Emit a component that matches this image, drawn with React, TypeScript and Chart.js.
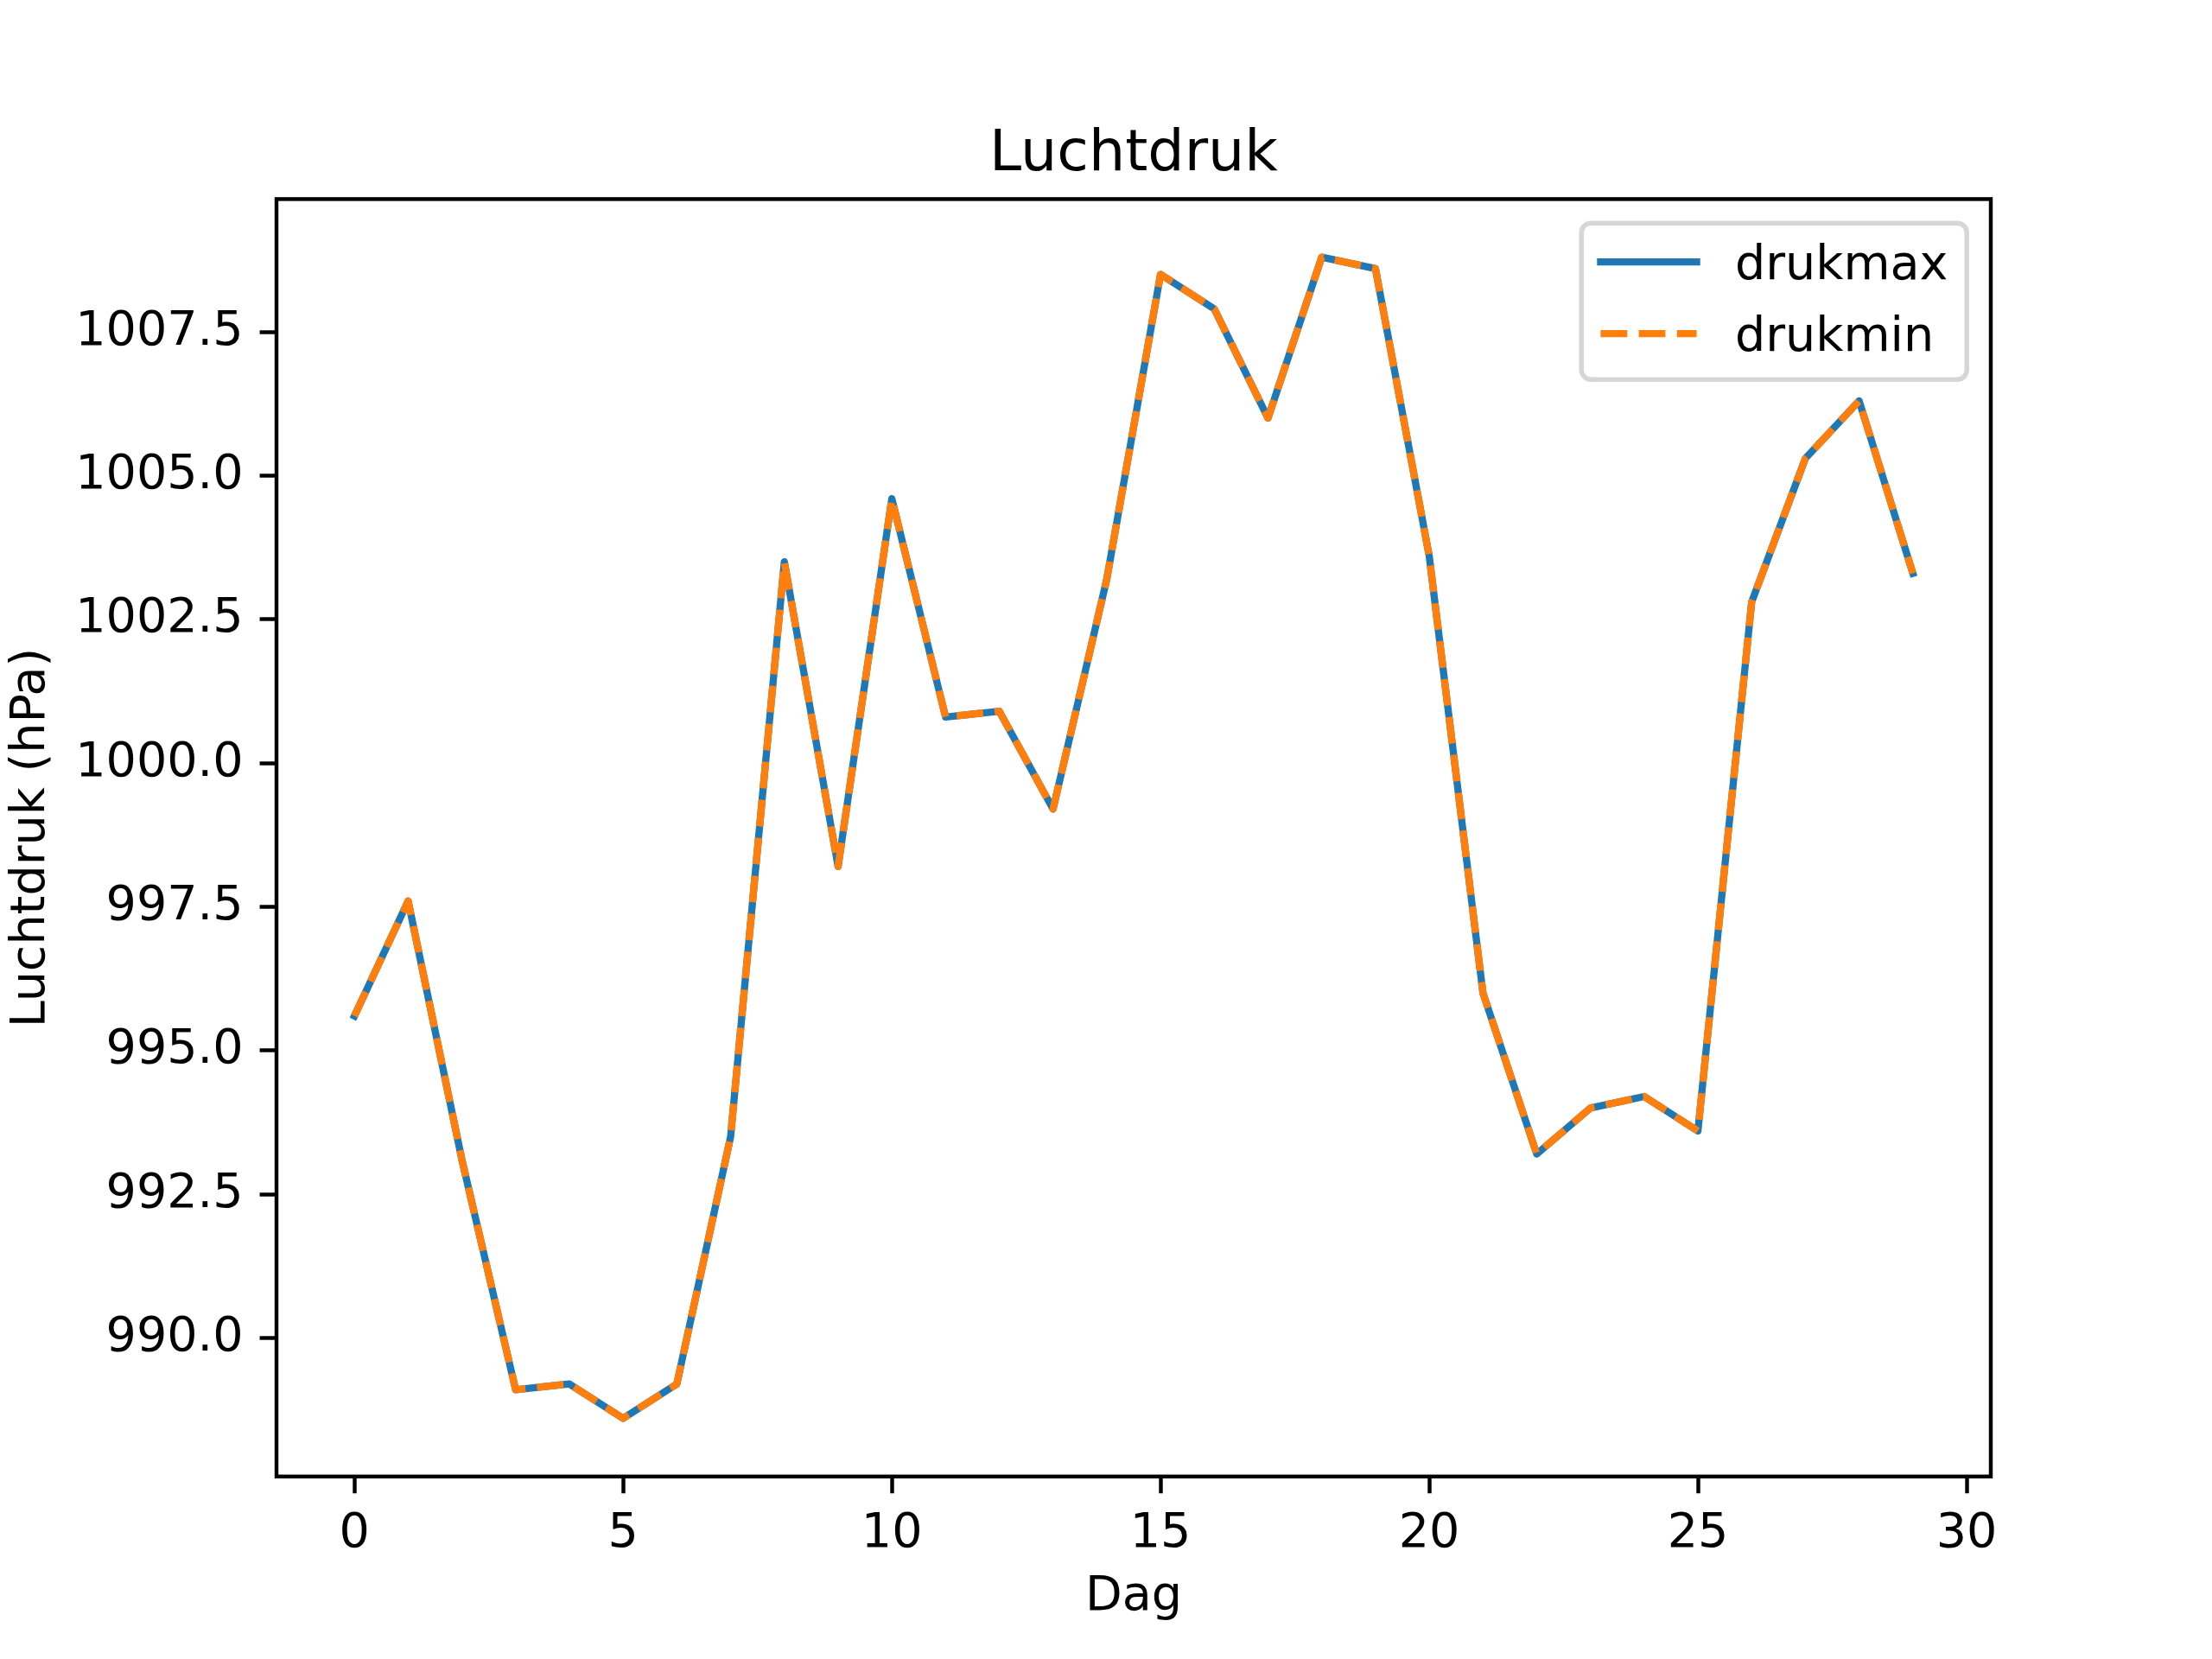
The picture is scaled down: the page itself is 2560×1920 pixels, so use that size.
import React, { useEffect, useRef } from 'react';
import { Chart, registerables } from 'chart.js';

Chart.register(...registerables);

// matplotlib figure at 400 dpi: 1pt = 400/72 px
const PT = 400 / 72;
const FONT = "'DejaVu Sans', sans-serif";

const days = [0, 1, 2, 3, 4, 5, 6, 7, 8, 9, 10, 11, 12, 13, 14, 15, 16, 17, 18, 19, 20, 21, 22, 23, 24, 25, 26, 27, 28, 29];
const drukmax = [
  995.6, 997.6, 993.1, 989.1, 989.2, 988.6, 989.2, 993.5, 1003.5, 998.2,
  1004.6, 1000.8, 1000.9, 999.2, 1003.2, 1008.5, 1007.9, 1006.0, 1008.8, 1008.6,
  1003.6, 996.0, 993.2, 994.0, 994.2, 993.6, 1002.8, 1005.3, 1006.3, 1003.3,
];
const drukmin = [
  995.6, 997.6, 993.1, 989.1, 989.2, 988.6, 989.2, 993.5, 1003.5, 998.2,
  1004.6, 1000.8, 1000.9, 999.2, 1003.2, 1008.5, 1007.9, 1006.0, 1008.8, 1008.6,
  1003.6, 996.0, 993.2, 994.0, 994.2, 993.6, 1002.8, 1005.3, 1006.3, 1003.3,
];
const xTicks = [0, 5, 10, 15, 20, 25, 30];
const yTicks = [990, 992.5, 995, 997.5, 1000, 1002.5, 1005, 1007.5];

const seriesNames = ['drukmax', 'drukmin'];
const seriesColors = ['#1f77b4', '#ff7f0e'];
const DASH = [3.7 * 1.5 * PT, 1.6 * 1.5 * PT];

const overlayPlugin = {
  id: 'mplOverlay',
  afterDatasetsDraw(chart: any) {
    const { ctx, chartArea: a } = chart;
    ctx.save();

    // axes frame
    ctx.strokeStyle = '#000';
    ctx.lineWidth = 0.8 * PT;
    ctx.strokeRect(a.left, a.top, a.right - a.left, a.bottom - a.top);

    // title
    ctx.fillStyle = '#000';
    ctx.font = `${12 * PT}px ${FONT}`;
    ctx.textAlign = 'center';
    ctx.textBaseline = 'alphabetic';
    ctx.fillText('Luchtdruk', (a.left + a.right) / 2, a.top - 6 * PT);

    // legend box
    const fs = 10 * PT;
    const w = 446;
    const h = 181;
    const right = a.right - 0.5 * fs;
    const top = a.top + 0.5 * fs;
    const left = right - w;
    const r = 0.2 * fs;
    ctx.beginPath();
    ctx.roundRect(left, top, w, h, r);
    ctx.fillStyle = 'rgba(255,255,255,0.8)';
    ctx.fill();
    ctx.lineWidth = 1 * PT;
    ctx.strokeStyle = 'rgba(204,204,204,0.8)';
    ctx.stroke();

    const rows = [top + 45, top + 128];
    const hx0 = left + 0.4 * fs;
    const hx1 = hx0 + 2 * fs;
    ctx.font = `${fs}px ${FONT}`;
    ctx.textAlign = 'left';
    ctx.textBaseline = 'alphabetic';
    seriesNames.forEach((name, i) => {
      ctx.beginPath();
      ctx.moveTo(hx0, rows[i]);
      ctx.lineTo(hx1, rows[i]);
      ctx.lineWidth = 1.5 * PT;
      ctx.strokeStyle = seriesColors[i];
      ctx.lineCap = i === 0 ? 'square' : 'butt';
      ctx.setLineDash(i === 0 ? [] : DASH);
      ctx.stroke();
      ctx.setLineDash([]);
      ctx.fillStyle = '#000';
      ctx.fillText(name, hx1 + 0.8 * fs, rows[i] + 20);
    });

    ctx.restore();
  },
};

const App: React.FC = () => {
  const canvasRef = useRef<HTMLCanvasElement>(null);
  const chartRef = useRef<Chart | null>(null);

  useEffect(() => {
    if (!canvasRef.current) return;
    if (chartRef.current) chartRef.current.destroy();

    Chart.defaults.font.family = FONT;
    Chart.defaults.color = '#000';

    const all = [...drukmax, ...drukmin];
    const lo = Math.min(...all);
    const hi = Math.max(...all);
    const marginY = (hi - lo) * 0.05;
    const marginX = (days[days.length - 1] - days[0]) * 0.05;

    const tickGrid = {
      display: true,
      drawOnChartArea: false,
      drawTicks: true,
      tickLength: 3.5 * PT,
      tickWidth: 0.8 * PT,
      tickColor: '#000',
    };

    chartRef.current = new Chart(canvasRef.current, {
      type: 'line',
      data: {
        datasets: [
          {
            label: seriesNames[0],
            data: days.map((d, i) => ({ x: d, y: drukmax[i] })),
            borderColor: seriesColors[0],
            borderWidth: 1.5 * PT,
            borderCapStyle: 'square',
            borderJoinStyle: 'round',
            pointRadius: 0,
            tension: 0,
            fill: false,
            order: 2,
          },
          {
            label: seriesNames[1],
            data: days.map((d, i) => ({ x: d, y: drukmin[i] })),
            borderColor: seriesColors[1],
            borderWidth: 1.5 * PT,
            borderDash: DASH,
            borderCapStyle: 'butt',
            borderJoinStyle: 'round',
            pointRadius: 0,
            tension: 0,
            fill: false,
            order: 1,
          },
        ],
      },
      options: {
        animation: false,
        responsive: false,
        devicePixelRatio: 1,
        layout: { padding: { top: 0.12 * 1920, right: 0.1 * 2560, left: 0, bottom: 0 } },
        scales: {
          x: {
            type: 'linear',
            min: days[0] - marginX,
            max: days[days.length - 1] + marginX,
            grid: tickGrid,
            border: { display: false },
            afterBuildTicks: (scale: any) => {
              scale.ticks = xTicks.map((v) => ({ value: v }));
            },
            afterFit: (scale: any) => {
              scale.height = 0.11 * 1920;
            },
            ticks: {
              font: { size: 10 * PT },
              padding: 14,
              maxRotation: 0,
              autoSkip: false,
              callback: (v: any) => String(v),
            },
            title: {
              display: true,
              text: 'Dag',
              font: { size: 10 * PT },
              padding: { top: 38, bottom: 38 },
            },
          },
          y: {
            type: 'linear',
            min: lo - marginY,
            max: hi + marginY,
            grid: tickGrid,
            border: { display: false },
            afterBuildTicks: (scale: any) => {
              scale.ticks = yTicks.map((v) => ({ value: v }));
            },
            afterFit: (scale: any) => {
              scale.width = 0.125 * 2560;
            },
            ticks: {
              font: { size: 10 * PT },
              padding: 19,
              autoSkip: false,
              callback: (v: any) => Number(v).toFixed(1),
            },
            title: {
              display: true,
              text: 'Luchtdruk (hPa)',
              font: { size: 10 * PT },
              padding: { top: 3, bottom: 3 },
            },
          },
        },
        plugins: {
          legend: { display: false },
          tooltip: { enabled: false },
          title: { display: false },
        },
      },
      plugins: [overlayPlugin],
    });

    return () => {
      if (chartRef.current) {
        chartRef.current.destroy();
        chartRef.current = null;
      }
    };
  }, []);

  return (
    <div style={{ position: 'fixed', left: 0, top: 0, width: 2560, height: 1920, background: '#fff' }}>
      <canvas ref={canvasRef} width={2560} height={1920} style={{ width: 2560, height: 1920 }}></canvas>
    </div>
  );
};

export default App;
